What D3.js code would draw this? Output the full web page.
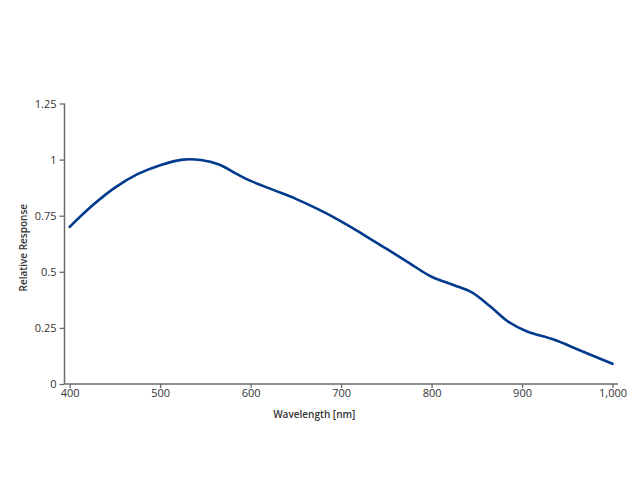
<!DOCTYPE html>
<html>
<head>
<meta charset="utf-8">
<script src="https://cdn.jsdelivr.net/npm/d3@7"></script>
<style>
  body { margin: 0; background: #fff; }
  svg { display: block; }
</style>
</head>
<body>
<svg id="chart" width="640" height="480"></svg>
<script>
const wavelengths = [400, 425, 450, 475, 500, 525, 545, 565, 585, 600, 625, 650, 675, 700, 725, 750, 775, 800, 825, 845, 865, 885, 905, 935, 965, 1000];
const response    = [0.70, 0.795, 0.875, 0.935, 0.975, 1.0, 0.998, 0.978, 0.935, 0.905, 0.865, 0.825, 0.778, 0.725, 0.665, 0.603, 0.54, 0.478, 0.44, 0.407, 0.345, 0.277, 0.235, 0.198, 0.148, 0.09];
const xTicks = [400, 500, 600, 700, 800, 900, 1000];
const yTicks = [0, 0.25, 0.5, 0.75, 1, 1.25];
const xTitle = "Wavelength [nm]";
const yTitle = "Relative Response";

const svg = d3.select("#chart");
const font = "'Open Sans', 'DejaVu Sans', sans-serif";
const axisColor = "#6b6b6b";
const textColor = "#333";

const x = d3.scaleLinear().domain([400, 1000]).range([69.7, 612.5]);
const y = d3.scaleLinear().domain([0, 1.25]).range([384, 103.5]);
const axisX0 = 64.5, axisX1 = 618;

// Y axis
const yAxis = svg.append("g")
  .attr("transform", `translate(${axisX0},0)`)
  .call(d3.axisLeft(y).tickValues(yTicks).tickSize(5).tickSizeOuter(0)
    .tickFormat(d => d3.format("~g")(d)));
yAxis.select(".domain").remove();
yAxis.append("line").attr("x1", 0).attr("x2", 0).attr("y1", y(1.25)).attr("y2", y(0))
  .attr("stroke", axisColor).attr("stroke-width", 1.5);
yAxis.selectAll(".tick line").attr("stroke", axisColor).attr("stroke-width", 1.3);
yAxis.selectAll(".tick text").attr("x", -8).attr("fill", textColor)
  .style("font-family", font).style("font-size", "11px");

// X axis
const xAxis = svg.append("g")
  .attr("transform", `translate(0,${y(0)})`)
  .call(d3.axisBottom(x).tickValues(xTicks).tickSize(4).tickSizeOuter(0)
    .tickFormat(d3.format(",")));
xAxis.select(".domain").remove();
xAxis.append("line").attr("x1", axisX0).attr("x2", axisX1).attr("y1", 0).attr("y2", 0)
  .attr("stroke", axisColor).attr("stroke-width", 1.5);
xAxis.selectAll(".tick line").attr("stroke", axisColor).attr("stroke-width", 1.3);
xAxis.selectAll(".tick text").attr("y", 5).attr("fill", textColor)
  .style("font-family", font).style("font-size", "11px");

// Titles
svg.append("text")
  .attr("x", (axisX0 + axisX1) / 2 - 27).attr("y", 418)
  .attr("text-anchor", "middle")
  .attr("fill", textColor)
  .style("font-family", font).style("font-size", "10px").style("font-weight", 600)
  .text(xTitle);

svg.append("text")
  .attr("transform", `translate(27,${(y(0) + y(1.25)) / 2 + 4}) rotate(-90)`)
  .attr("text-anchor", "middle")
  .attr("fill", textColor)
  .style("font-family", font).style("font-size", "10px").style("font-weight", 600)
  .text(yTitle);

// Line
const data = wavelengths.map((w, i) => ({ w, r: response[i] }));
svg.append("path")
  .datum(data)
  .attr("fill", "none")
  .attr("stroke", "#003a8c")
  .attr("stroke-width", 2.6)
  .attr("stroke-linecap", "round")
  .attr("d", d3.line().x(d => x(d.w)).y(d => y(d.r)).curve(d3.curveCatmullRom.alpha(0.5)));
</script>
</body>
</html>
